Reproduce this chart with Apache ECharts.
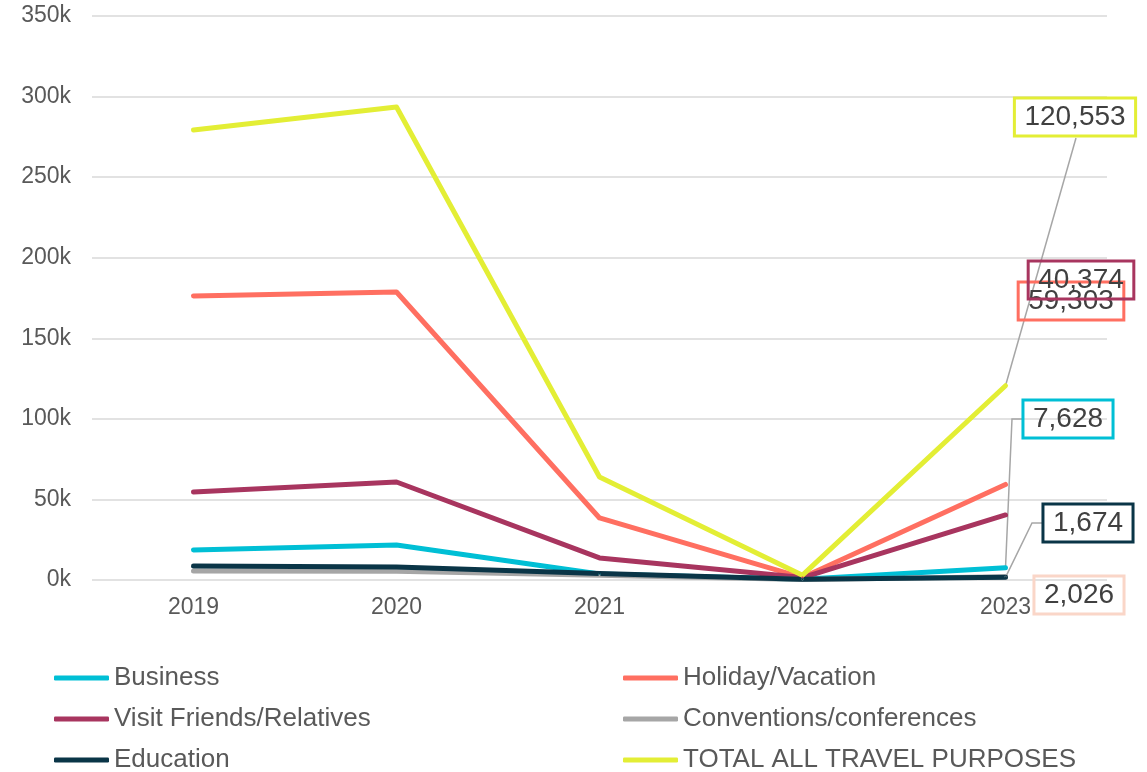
<!DOCTYPE html>
<html><head><meta charset="utf-8">
<script src="https://cdn.jsdelivr.net/npm/echarts@6/dist/echarts.min.js"></script>
<style>html,body{margin:0;padding:0;background:#fff}#c{width:1147px;height:772px}</style>
</head><body><div id="c"></div>
<script>
var years = ['2019','2020','2021','2022','2023'];
var business = [18600, 21700, 3700, 500, 7628];
var holiday = [176200, 178700, 38500, 1500, 59303];
var vfr = [54600, 60800, 13700, 1500, 40374];
var conventions = [5600, 5500, 3000, 300, 2026];
var education = [8700, 8100, 4000, 500, 1674];
var total = [279300, 293500, 63900, 3000, 120553];
var yTicks = [0, 50000, 100000, 150000, 200000, 250000, 300000, 350000];

var font = 'Liberation Sans, Arial, sans-serif';
function mk(name, vals, color, labelCfg) {
  var last = vals.length - 1;
  return {
    name: name, type: 'line', symbol: 'circle', symbolSize: 2, showSymbol: true, z: 3,
    lineStyle: { width: 5, color: color, cap: 'round', join: 'round' },
    itemStyle: { color: color },
    data: vals.map(function (v, i) {
      if (i !== last) return v;
      return {
        value: v,
        label: {
          show: true, position: 'top',
          formatter: function (p) { return Number(p.value).toLocaleString('en-US'); },
          fontFamily: font, fontSize: 28, color: '#404040',
          backgroundColor: 'transparent', borderColor: labelCfg.border || color, borderWidth: 1.5,
          padding: [6, 10, 4, 10]
        }
      };
    }),
    labelLayout: { x: labelCfg.x, y: labelCfg.y, align: 'center', verticalAlign: 'middle' }
  };
}

function leg(name, left, top) {
  return { left: left, top: top, padding: 0, itemWidth: 55, itemHeight: 5, icon: 'roundRect', data: [name],
    textStyle: { fontSize: 26, color: '#595959', fontFamily: font } };
}

// leader lines: start from the data point (via the axes), then go to the label box
var leaders = [
  { vals: total, mid: 'straight', ex: 1076, ey: 138 },
  { vals: business, ex: 1023, ey: 419, elbowX: 1012 },
  { vals: education, ex: 1043, ey: 523, elbowX: 1032 }
];

var chart = echarts.init(document.getElementById('c'));
chart.setOption({
  animation: false,
  textStyle: { fontFamily: font },
  grid: { left: 92, right: 40, top: 16, bottom: 192 },
  xAxis: {
    type: 'category', data: years, boundaryGap: true,
    axisLine: { show: false }, axisTick: { show: false },
    axisLabel: { fontSize: 23, color: '#595959', margin: 16, fontFamily: font }
  },
  yAxis: {
    type: 'value', min: yTicks[0], max: yTicks[yTicks.length - 1], interval: 50000,
    axisLine: { show: false }, axisTick: { show: false },
    splitLine: { lineStyle: { color: '#d9d9d9', width: 1.5 } },
    axisLabel: { fontSize: 23, color: '#595959', margin: 21, fontFamily: font,
      formatter: function (v) { return (v / 1000) + 'k'; } }
  },
  legend: [
    leg('Business', 54, 665),
    leg('Visit Friends/Relatives', 54, 706),
    leg('Education', 54, 747),
    leg('Holiday/Vacation', 623, 665),
    leg('Conventions/conferences', 623, 706),
    leg('TOTAL ALL TRAVEL PURPOSES', 623, 747)
  ],
  series: [
    mk('Business', business, '#00BFD5', { x: 1068, y: 419 }),
    mk('Holiday/Vacation', holiday, '#FF6F61', { x: 1071, y: 301 }),
    mk('Visit Friends/Relatives', vfr, '#A8355F', { x: 1081, y: 280 }),
    mk('Conventions/conferences', conventions, '#A6A6A6', { x: 1079, y: 595, border: '#FAD6C8' }),
    mk('Education', education, '#0A3547', { x: 1088, y: 523 }),
    mk('TOTAL ALL TRAVEL PURPOSES', total, '#E3EE35', { x: 1075, y: 117 })
  ]
});

var last = years.length - 1;
var gfx = leaders.map(function (l) {
  var p = chart.convertToPixel({ gridIndex: 0 }, [last, l.vals[last]]);
  var pts = l.elbowX ? [p, [l.elbowX, l.ey], [l.ex, l.ey]] : [p, [l.ex, l.ey]];
  return { type: 'polyline', z: 2, silent: true, shape: { points: pts },
    style: { stroke: '#a6a6a6', lineWidth: 1.5, fill: null } };
});
chart.setOption({ graphic: gfx });
</script></body></html>
